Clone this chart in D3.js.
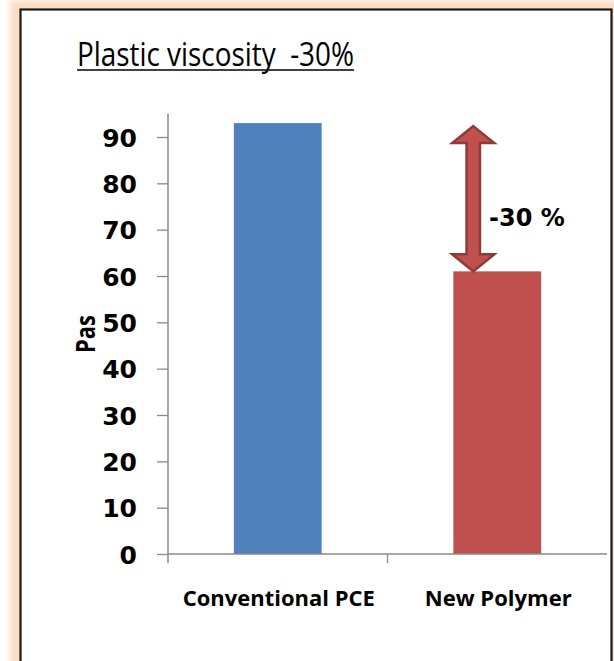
<!DOCTYPE html>
<html>
<head>
<meta charset="utf-8">
<script src="https://cdn.jsdelivr.net/npm/d3@7"></script>
<style>
  html, body { margin: 0; padding: 0; background: #fff; }
  svg { display: block; }
</style>
</head>
<body>
<script>
// Plastic viscosity of two admixtures (Pas)
const categories = ["Conventional PCE", "New Polymer"];
const values = [93, 61];
const barColors = ["#4F81BD", "#C0504D"];
const yTicks = [0, 10, 20, 30, 40, 50, 60, 70, 80, 90];
const yAxisMax = 95;
const titleText = "Plastic viscosity  -30%";
const yLabel = "Pas";
const changeLabel = "-30 %";

const W = 614, H = 661;
const svg = d3.select("body").append("svg").attr("width", W).attr("height", H);

// soft peach glow around the framed panel
const defs = svg.append("defs");
const glow = defs.append("filter").attr("id", "glow")
  .attr("x", "-10%").attr("y", "-10%").attr("width", "120%").attr("height", "120%");
glow.append("feGaussianBlur").attr("stdDeviation", 3);
svg.append("rect").attr("x", 10).attr("y", 0).attr("width", 612).attr("height", 700)
  .attr("fill", "#FDDCC2").attr("filter", "url(#glow)");
svg.append("rect").attr("x", 20.5).attr("y", 9.5).attr("width", 591).attr("height", 700)
  .attr("fill", "#fff").attr("stroke", "#1b1b1b").attr("stroke-width", 2.2);

// title
svg.append("text").attr("x", 77).attr("y", 66)
  .attr("xml:space", "preserve").style("white-space", "pre")
  .attr("font-family", "'Open Sans', Lato, sans-serif").attr("font-size", 32)
  .attr("fill", "#000").attr("textLength", 277).attr("lengthAdjust", "spacingAndGlyphs")
  .text(titleText);
svg.append("line").attr("x1", 77).attr("x2", 354).attr("y1", 70).attr("y2", 70)
  .attr("stroke", "#000").attr("stroke-width", 1.6);

// scales
const y = d3.scaleLinear().domain([0, 90]).range([554, 137]);
const x = d3.scaleBand().domain(categories).range([168, 607]).paddingInner(0).paddingOuter(0);
const barFrac = 0.4;

const axisColor = "#8a8a8a";

// y axis
const gy = svg.append("g").attr("transform", "translate(168,0)")
  .call(d3.axisLeft(y).tickValues(yTicks).tickSize(11).tickPadding(20).tickFormat(d3.format("d")));
gy.select(".domain").remove();
gy.selectAll(".tick line").attr("stroke", axisColor).attr("stroke-width", 1.3);
gy.selectAll(".tick text").attr("font-family", "'DejaVu Sans', Verdana, sans-serif")
  .attr("font-weight", "bold").attr("font-size", 25).attr("fill", "#000")
  .attr("dy", "0.36em");
svg.append("line").attr("x1", 168).attr("x2", 168).attr("y1", y(yAxisMax)).attr("y2", y(0) + 9)
  .attr("stroke", axisColor).attr("stroke-width", 1.5);

// bars
svg.selectAll("rect.bar").data(categories).enter().append("rect").attr("class", "bar")
  .attr("x", d => x(d) + x.bandwidth() * (1 - barFrac) / 2)
  .attr("width", x.bandwidth() * barFrac)
  .attr("y", (d, i) => y(values[i]))
  .attr("height", (d, i) => y(0) - y(values[i]))
  .attr("fill", (d, i) => barColors[i]);

// x axis
svg.append("line").attr("x1", 168).attr("x2", 607).attr("y1", y(0)).attr("y2", y(0))
  .attr("stroke", axisColor).attr("stroke-width", 1.5);
svg.append("line").attr("x1", x(categories[1])).attr("x2", x(categories[1]))
  .attr("y1", y(0)).attr("y2", y(0) + 9).attr("stroke", axisColor).attr("stroke-width", 1.3);

const catWidths = [192, 147];
svg.selectAll("text.cat").data(categories).enter().append("text").attr("class", "cat")
  .attr("x", d => x(d) + x.bandwidth() / 2 + 1).attr("y", 606)
  .attr("text-anchor", "middle")
  .attr("font-family", "'Open Sans', Lato, sans-serif").attr("font-weight", "bold")
  .attr("font-size", 21).attr("fill", "#000")
  .attr("textLength", (d, i) => catWidths[i]).attr("lengthAdjust", "spacingAndGlyphs")
  .text(d => d);

// y axis title
svg.append("text").attr("transform", "translate(95,334) rotate(-90)")
  .attr("text-anchor", "middle")
  .attr("font-family", "'Open Sans', Lato, sans-serif").attr("font-weight", "bold")
  .attr("font-size", 27).attr("fill", "#000")
  .attr("textLength", 38).attr("lengthAdjust", "spacingAndGlyphs").text(yLabel);

// double-headed arrow spanning the gap between the two bars
const ax = x(categories[1]) + x.bandwidth() / 2 - 24;
const yTop = y(values[0]) + 3, yBot = y(values[1]);
const headW = 21, headH = 17, shaftW = 6.7;
const arrowPath = d3.path();
arrowPath.moveTo(ax, yTop);
arrowPath.lineTo(ax + headW, yTop + headH);
arrowPath.lineTo(ax + shaftW, yTop + headH);
arrowPath.lineTo(ax + shaftW, yBot - headH);
arrowPath.lineTo(ax + headW, yBot - headH);
arrowPath.lineTo(ax, yBot);
arrowPath.lineTo(ax - headW, yBot - headH);
arrowPath.lineTo(ax - shaftW, yBot - headH);
arrowPath.lineTo(ax - shaftW, yTop + headH);
arrowPath.lineTo(ax - headW, yTop + headH);
arrowPath.closePath();
svg.append("path").attr("d", arrowPath.toString())
  .attr("fill", "#C0504D").attr("stroke", "#8C3B39").attr("stroke-width", 2.5)
  .attr("stroke-linejoin", "miter");

svg.append("text").attr("x", 489).attr("y", (yTop + yBot) / 2 + 27)
  .attr("font-family", "'DejaVu Sans', Verdana, sans-serif").attr("font-weight", "bold")
  .attr("font-size", 24).attr("fill", "#000").text(changeLabel);
</script>
</body>
</html>
